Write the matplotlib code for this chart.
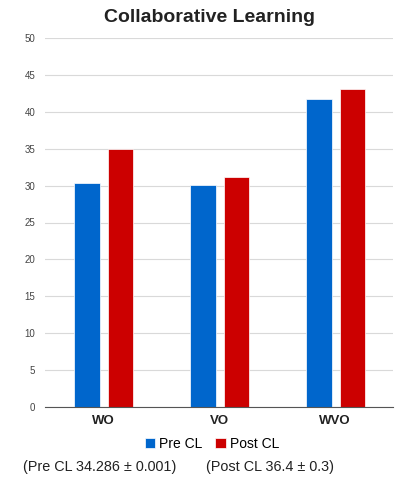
import matplotlib
matplotlib.use("Agg")
import matplotlib.pyplot as plt
import numpy as np

categories = ["WO", "VO", "WVO"]
pre_cl = [30.4, 30.1, 41.8]
post_cl = [34.9, 31.1, 43.1]
series_names = ["Pre CL", "Post CL"]
yticks = [0, 5, 10, 15, 20, 25, 30, 35, 40, 45, 50]
footnote_pre = "(Pre CL 34.286 \u00b1 0.001)"
footnote_post = "(Post CL 36.4 \u00b1 0.3)"

plt.rcParams['font.family'] = ['Liberation Sans', 'DejaVu Sans']

fig = plt.figure(figsize=(3.98, 4.80), dpi=100)
ax = fig.add_axes([45/398, 1 - 407/480, 348/398, 369/480])

x = np.arange(len(categories))
w = 0.22
ax.bar(x - 0.14, pre_cl, width=w, color="#0066cc", edgecolor="white", linewidth=0.5, label=series_names[0], zorder=3)
ax.bar(x + 0.15, post_cl, width=w, color="#cc0000", edgecolor="white", linewidth=0.5, label=series_names[1], zorder=3)

ax.set_xlim(-0.5, 2.5)
ax.set_ylim(0, 50)
ax.set_yticks(yticks)
ax.set_yticklabels([str(t) for t in yticks], fontsize=7, color="#444444")
ax.set_xticks(x)
ax.set_xticklabels(categories, fontsize=9.5, fontweight="bold", color="#222222")
ax.tick_params(axis="both", length=0)
ax.tick_params(axis="y", pad=7)
ax.tick_params(axis="x", pad=6)
ax.grid(axis="y", color="#d9d9d9", linewidth=0.8, zorder=0)
for s in ["top", "right", "left"]:
    ax.spines[s].set_visible(False)
ax.spines["bottom"].set_color("#555555")
ax.spines["bottom"].set_linewidth(0.8)
ax.spines["bottom"].set_zorder(4)

fig.text(210/398, 1 - 18/480, "Collaborative Learning", ha="center", va="center",
         fontsize=14, fontweight="bold", color="#222222")

leg = fig.legend(loc="center", bbox_to_anchor=(212/398, 1 - 444/480), ncol=2, frameon=False,
                 fontsize=10, handlelength=0.75, handleheight=0.75, handletextpad=0.3,
                 columnspacing=0.9)

fig.text(23/398, 1 - 467/480, footnote_pre, ha="left", va="center", fontsize=10.4, color="#222222")
fig.text(206/398, 1 - 467/480, footnote_post, ha="left", va="center", fontsize=10.4, color="#222222")

fig.savefig("out.png", dpi=100, facecolor="white")
